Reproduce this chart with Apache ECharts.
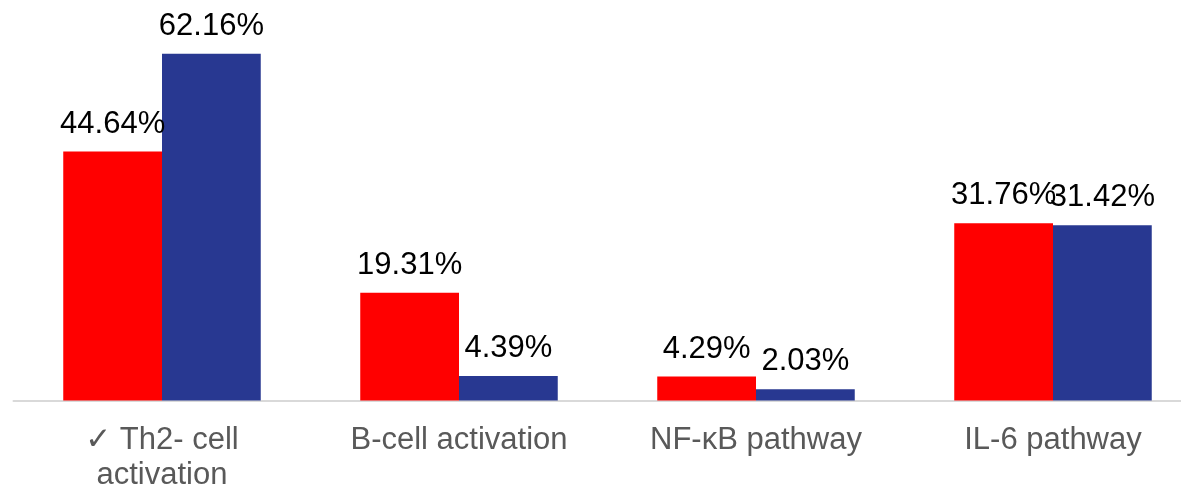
<!DOCTYPE html>
<html>
<head>
<meta charset="utf-8">
<script src="https://cdn.jsdelivr.net/npm/echarts@6/dist/echarts.min.js"></script>
<style>
html,body{margin:0;padding:0;background:#fff;}
#c{width:1181px;height:496px;}
</style>
</head>
<body>
<div id="c"></div>
<script>
const categories = ['✓ Th2- cell\nactivation', 'B-cell activation', 'NF-κB pathway', 'IL-6 pathway'];
const seriesRed = [44.64, 19.31, 4.29, 31.76];
const seriesBlue = [62.16, 4.39, 2.03, 31.42];

const chart = echarts.init(document.getElementById('c'), null, {renderer: 'canvas'});
const labelStyle = {
  show: true,
  position: 'top',
  distance: 12,
  fontFamily: 'Liberation Sans, Arial, sans-serif',
  fontSize: 31,
  color: '#000',
  formatter: p => p.value.toFixed(2) + '%'
};
chart.setOption({
  animation: false,
  backgroundColor: '#fff',
  grid: {left: 13.5, top: 10, width: 1188, bottom: 95.5, containLabel: false, outerBoundsMode: 'none'},
  xAxis: {
    type: 'category',
    data: categories,
    axisLine: {show: true, lineStyle: {color: '#d9d9d9', width: 2}},
    axisTick: {show: false},
    axisLabel: {
      interval: 0,
      margin: 22,
      fontFamily: 'Liberation Sans, Arial, DejaVu Sans, sans-serif',
      fontSize: 31,
      lineHeight: 35,
      color: '#595959'
    }
  },
  yAxis: {
    type: 'value',
    min: 0,
    max: 70,
    show: false,
    splitLine: {show: false}
  },
  series: [
    {
      type: 'bar',
      data: seriesRed,
      barGap: '0%',
      barCategoryGap: '33.5%',
      itemStyle: {color: '#ff0000'},
      label: labelStyle
    },
    {
      type: 'bar',
      data: seriesBlue,
      barGap: '0%',
      barCategoryGap: '33.5%',
      itemStyle: {color: '#283891'},
      label: labelStyle
    }
  ]
});
</script>
</body>
</html>
